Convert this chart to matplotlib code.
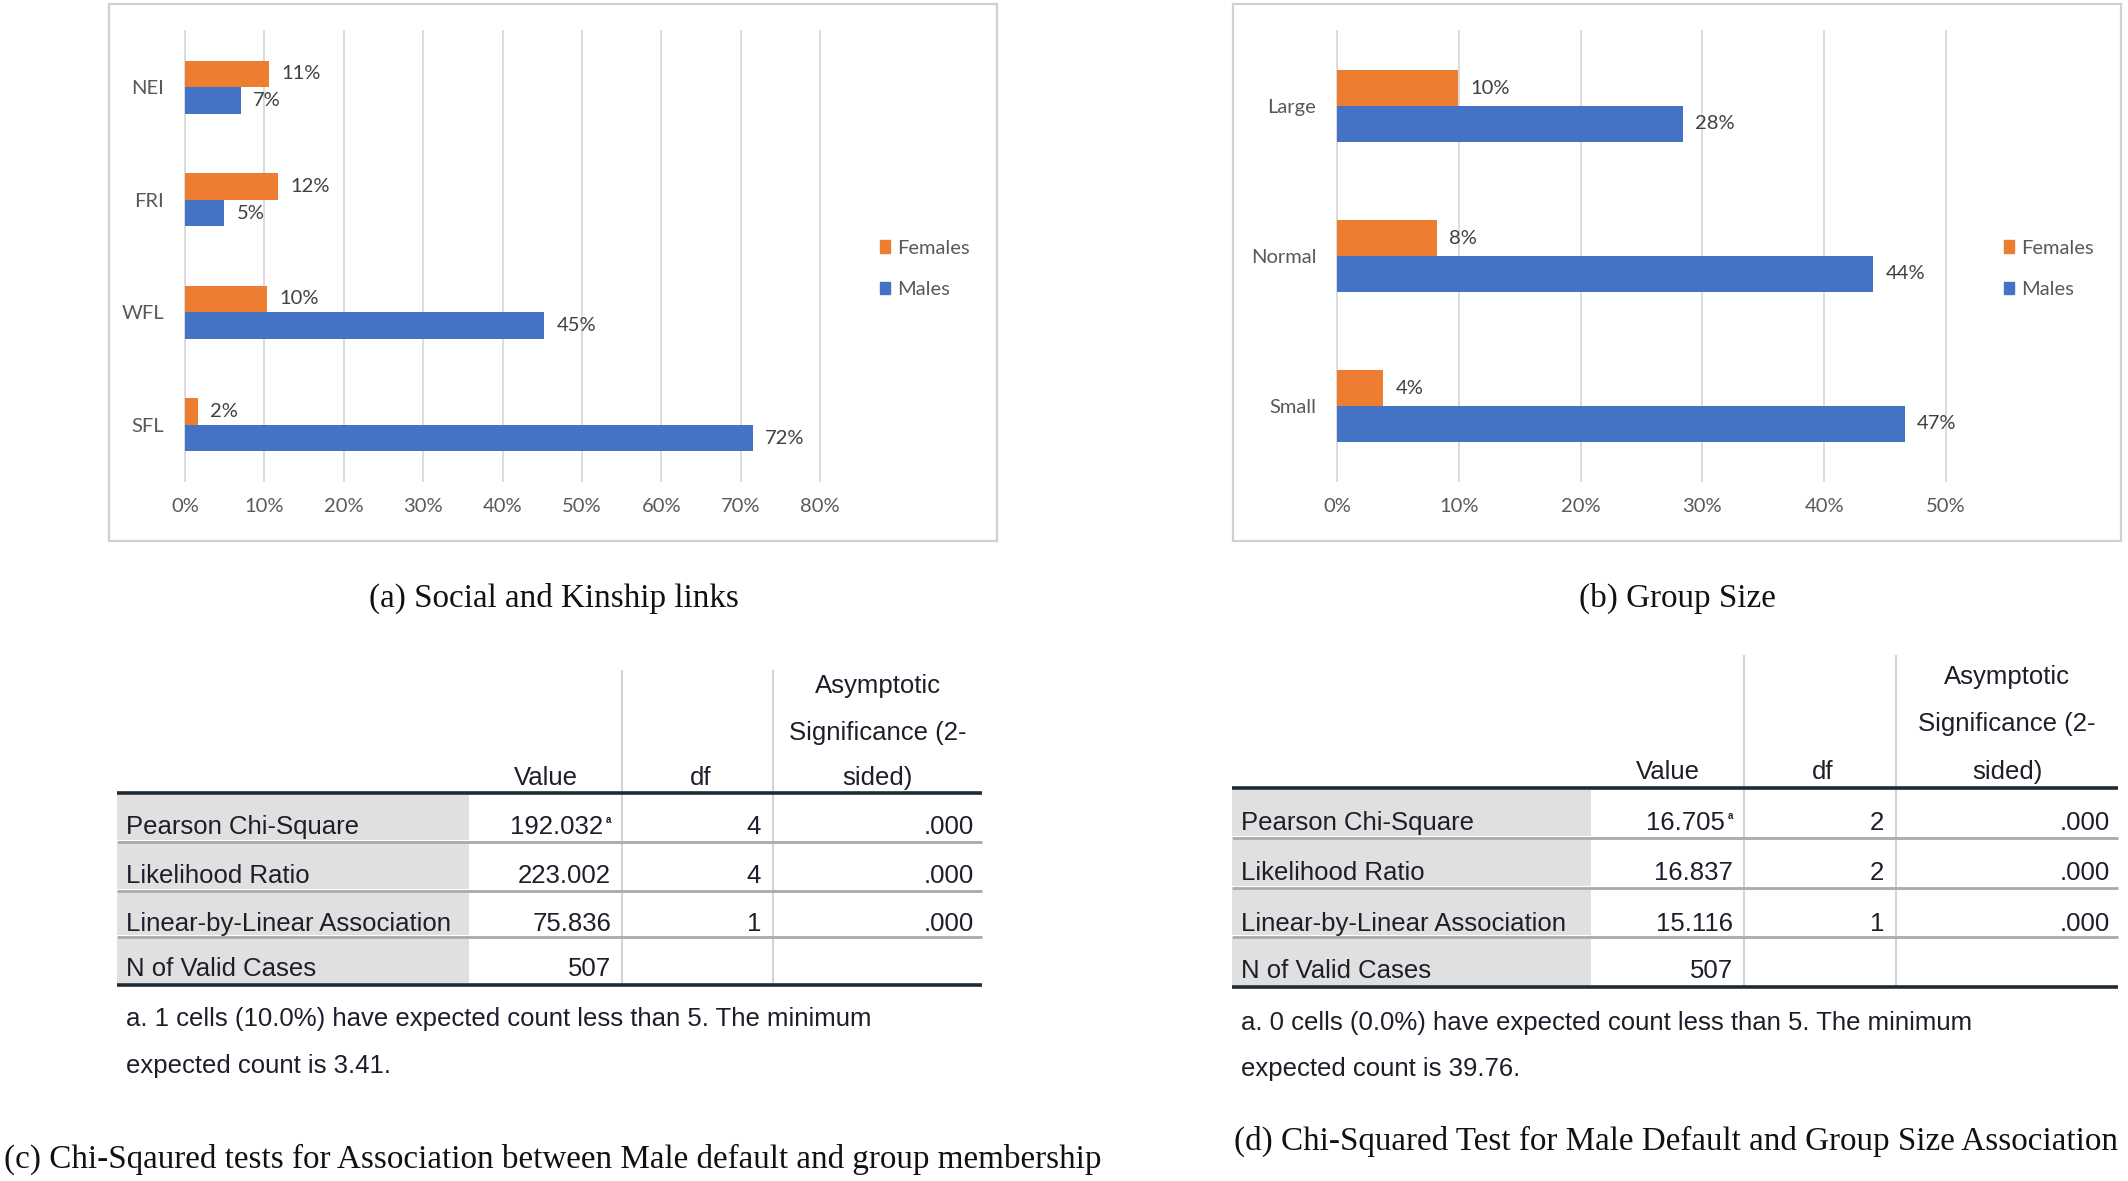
import numpy as np
import matplotlib
matplotlib.use("Agg")
import matplotlib.pyplot as plt
from matplotlib.patches import Rectangle, Patch

W, H = 2128, 1181
DPI = 100

# ---------------- data ----------------
kin_cats = ["NEI", "FRI", "WFL", "SFL"]
kin_females = [0.106, 0.117, 0.103, 0.016]
kin_males = [0.070, 0.049, 0.452, 0.715]
kin_ticks = [0.0, 0.1, 0.2, 0.3, 0.4, 0.5, 0.6, 0.7, 0.8]

size_cats = ["Large", "Normal", "Small"]
size_females = [0.099, 0.082, 0.038]
size_males = [0.284, 0.440, 0.466]
size_ticks = [0.0, 0.1, 0.2, 0.3, 0.4, 0.5]

series_names = ["Females", "Males"]

table_header_value = "Value"
table_header_df = "df"
table_header_sig = ["Asymptotic", "Significance (2-", "sided)"]
table_row_labels = ["Pearson Chi-Square", "Likelihood Ratio",
                    "Linear-by-Linear Association", "N of Valid Cases"]

c_values = ["192.032", "223.002", "75.836", "507"]
c_marks = ["a", "", "", ""]
c_df = ["4", "4", "1", ""]
c_sig = [".000", ".000", ".000", ""]
c_foot = ["a. 1 cells (10.0%) have expected count less than 5. The minimum",
          "expected count is 3.41."]

d_values = ["16.705", "16.837", "15.116", "507"]
d_marks = ["a", "", "", ""]
d_df = ["2", "2", "1", ""]
d_sig = [".000", ".000", ".000", ""]
d_foot = ["a. 0 cells (0.0%) have expected count less than 5. The minimum",
          "expected count is 39.76."]

captions = ["(a) Social and Kinship links", "(b) Group Size",
            "(c) Chi-Sqaured tests for Association between Male default and group membership",
            "(d) Chi-Squared Test for Male Default and Group Size Association"]

# ---------------- style ----------------
ORANGE = "#ED7D31"
BLUE = "#4472C4"
GRID = "#D9D9D9"
TICK = "#595959"
LABEL = "#404040"
CHART_FONT = ["Lato", "DejaVu Sans"]
CHART_FS = 14.5
TABLE_FONT = ["Liberation Sans", "DejaVu Sans"]
CAP_FONT = ["Liberation Serif", "DejaVu Serif"]
TXT = "#1E1E2A"

fig = plt.figure(figsize=(W / DPI, H / DPI), dpi=DPI)
fig.patch.set_facecolor("white")

ov = fig.add_axes([0, 0, 1, 1], zorder=0)
ov.set_xlim(0, W)
ov.set_ylim(H, 0)
ov.axis("off")


def px(x0, y0, x1, y1):
    return [x0 / W, 1 - y1 / H, (x1 - x0) / W, (y1 - y0) / H]


def bar_panel(frame, axrect, cats, fem, male, ticks, legend_xy):
    fx0, fy0, fx1, fy1 = frame
    ov.add_patch(Rectangle((fx0, fy0), fx1 - fx0, fy1 - fy0, fill=False,
                           edgecolor="#D0D0D0", lw=1.6))
    ax = fig.add_axes(px(*axrect), zorder=2)
    ax.set_facecolor("none")
    y = np.arange(len(cats))
    h = 0.237
    ax.barh(y - h / 2, fem, height=h, color=ORANGE, zorder=3)
    ax.barh(y + h / 2, male, height=h, color=BLUE, zorder=3)
    ax.set_ylim(len(cats) - 0.5, -0.5)
    ax.set_xlim(ticks[0], ticks[-1])
    ax.set_xticks(ticks)
    ax.set_xticklabels([f"{int(round(t * 100))}%" for t in ticks],
                       family=CHART_FONT, fontsize=CHART_FS, color=TICK)
    ax.set_yticks(y)
    ax.set_yticklabels(cats, family=CHART_FONT, fontsize=CHART_FS, color=TICK)
    ax.tick_params(axis="x", length=0, pad=12)
    ax.tick_params(axis="y", length=0, pad=15)
    ax.grid(axis="x", color=GRID, lw=1.3, zorder=0, clip_on=False)
    ax.set_axisbelow(True)
    for s in ax.spines.values():
        s.set_visible(False)
    for vals, off in ((fem, -h / 2), (male, h / 2)):
        for yi, v in zip(y, vals):
            ax.annotate(f"{int(round(v * 100))}%", xy=(v, yi + off),
                        xytext=(9, 0), textcoords="offset points",
                        va="center", ha="left", family=CHART_FONT,
                        fontsize=CHART_FS, color=LABEL)
    handles = [Patch(color=ORANGE), Patch(color=BLUE)]
    fig.legend(handles, series_names, loc="center left",
               bbox_to_anchor=(legend_xy[0] / W, 1 - legend_xy[1] / H),
               frameon=False, prop={"family": CHART_FONT, "size": CHART_FS},
               labelcolor=TICK, handlelength=0.5, handleheight=0.6,
               handletextpad=0.35, labelspacing=1.2, borderpad=0,
               borderaxespad=0)
    return ax


bar_panel((109, 4, 997, 541), (185, 31, 820, 481), kin_cats,
          kin_females, kin_males, kin_ticks, (880, 269))
bar_panel((1233, 4, 2121, 541), (1337, 31, 1946, 481), size_cats,
          size_females, size_males, size_ticks, (2004, 269))


def draw_table(x0, x1, xgray, xv1, xv2, top, seps, bottom, vtop,
               head_base, row_base, foot_base, values, marks, dfs, sigs, foot):
    fs = 18.5
    kw = dict(family=TABLE_FONT, fontsize=fs, color=TXT)
    edges = [top] + seps + [bottom]
    for i in range(4):
        ov.add_patch(Rectangle((x0, edges[i] + 2), xgray - x0,
                               edges[i + 1] - edges[i] - 4,
                               facecolor="#E0E0E0", edgecolor="none", zorder=1))
    for xv in (xv1, xv2):
        ov.plot([xv, xv], [vtop, bottom], color="#D3D3D3", lw=1.5, zorder=2)
    for s in seps:
        ov.plot([x0, x1], [s, s], color="#A9A9A9", lw=2.0, zorder=3,
                solid_capstyle="butt")
    for s in (top, bottom):
        ov.plot([x0, x1], [s, s], color="#1F2A33", lw=2.6, zorder=4,
                solid_capstyle="butt")
    hb1, hb2, hb3 = head_base
    ov.text((xgray + xv1) / 2, hb3, table_header_value, ha="center",
            va="baseline", **kw)
    ov.text((xv1 + xv2) / 2 + 3, hb3, table_header_df, ha="center",
            va="baseline", **kw)
    xs = (xv2 + x1) / 2
    for t, b in zip(table_header_sig, (hb1, hb2, hb3)):
        ov.text(xs, b, t, ha="center", va="baseline", **kw)
    for i in range(4):
        b = row_base[i]
        ov.text(x0 + 9, b, table_row_labels[i], ha="left", va="baseline", **kw)
        if marks[i]:
            ov.text(xv1 - 11, b - 11, marks[i], ha="right", va="baseline",
                    family=TABLE_FONT, fontsize=7, color=TXT, weight="bold")
            ov.text(xv1 - 19, b, values[i], ha="right", va="baseline", **kw)
        else:
            ov.text(xv1 - 11, b, values[i], ha="right", va="baseline", **kw)
        ov.text(xv2 - 12, b, dfs[i], ha="right", va="baseline", **kw)
        ov.text(x1 - 8, b, sigs[i], ha="right", va="baseline", **kw)
    for t, b in zip(foot, foot_base):
        ov.text(x0 + 9, b, t, ha="left", va="baseline", **kw)


draw_table(117, 982, 469, 622, 773, 793, [842, 891, 937], 985, 671,
           (693, 740, 785), [834, 883, 931, 976], (1026, 1073),
           c_values, c_marks, c_df, c_sig, c_foot)
draw_table(1232, 2118, 1591, 1744, 1896, 788, [838, 888, 937], 987, 656,
           (684, 731, 779), [830, 880, 931, 978], (1030, 1076),
           d_values, d_marks, d_df, d_sig, d_foot)

capkw = dict(family=CAP_FONT, fontsize=23.9, color="#111111", va="baseline")
ov.text(554, 607, captions[0], ha="center", **capkw)
ov.text(1677, 607, captions[1], ha="center", **capkw)
ov.text(4, 1168, captions[2], ha="left", **capkw)
ov.text(1234, 1150, captions[3], ha="left", **capkw)

fig.savefig("out.png", dpi=DPI, facecolor="white")
